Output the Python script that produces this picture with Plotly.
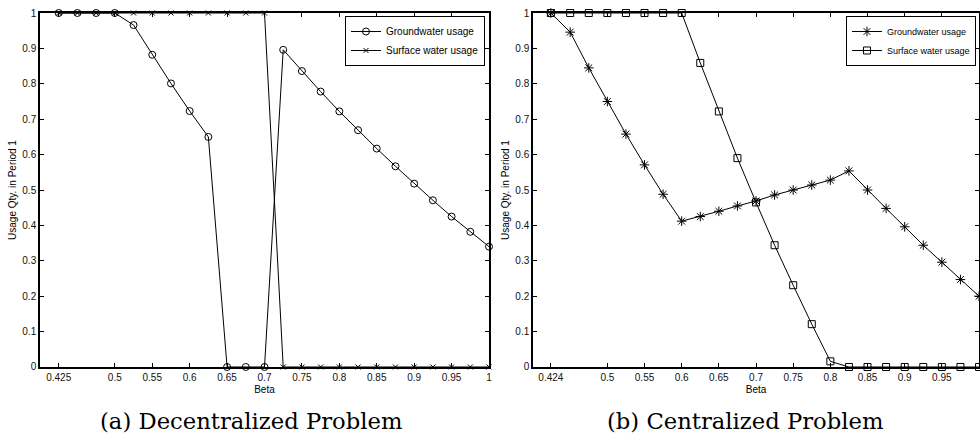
import plotly.graph_objects as go

# ---- Data: (a) Decentralized Problem ----
beta_a = [0.425, 0.45, 0.475, 0.5, 0.525, 0.55, 0.575, 0.6, 0.625, 0.65, 0.675, 0.7,
          0.725, 0.75, 0.775, 0.8, 0.825, 0.85, 0.875, 0.9, 0.925, 0.95, 0.975, 1.0]
ground_a = [1.0, 1.0, 1.0, 1.0, 0.966, 0.882, 0.801, 0.723, 0.650, 0.0, 0.0, 0.0,
            0.896, 0.836, 0.778, 0.722, 0.669, 0.617, 0.567, 0.518, 0.471, 0.425, 0.382, 0.340]
surface_a = [1.0, 1.0, 1.0, 1.0, 1.0, 1.0, 1.0, 1.0, 1.0, 1.0, 1.0, 1.0,
             0.0, 0.0, 0.0, 0.0, 0.0, 0.0, 0.0, 0.0, 0.0, 0.0, 0.0, 0.0]

# ---- Data: (b) Centralized Problem ----
beta_b = [0.424, 0.45, 0.475, 0.5, 0.525, 0.55, 0.575, 0.6, 0.625, 0.65, 0.675, 0.7,
          0.725, 0.75, 0.775, 0.8, 0.825, 0.85, 0.875, 0.9, 0.925, 0.95, 0.975, 1.0]
ground_b = [1.0, 0.946, 0.845, 0.750, 0.658, 0.571, 0.488, 0.412, 0.425, 0.440, 0.455, 0.469,
            0.486, 0.500, 0.514, 0.528, 0.554, 0.500, 0.448, 0.396, 0.344, 0.296, 0.247, 0.200]
surface_b = [1.0, 1.0, 1.0, 1.0, 1.0, 1.0, 1.0, 1.0, 0.859, 0.722, 0.590, 0.465,
             0.344, 0.231, 0.121, 0.016, 0.0, 0.0, 0.0, 0.0, 0.0, 0.0, 0.0, 0.0]

# ---- Tick labels ----
xticks_a = [0.425, 0.5, 0.55, 0.6, 0.65, 0.7, 0.75, 0.8, 0.85, 0.9, 0.95, 1.0]
xticktext_a = ["0.425", "0.5", "0.55", "0.6", "0.65", "0.7", "0.75", "0.8", "0.85", "0.9", "0.95", "1"]
xticks_b = [0.424, 0.5, 0.55, 0.6, 0.65, 0.7, 0.75, 0.8, 0.85, 0.9, 0.95, 1.0]
xticktext_b = ["0.424", "0.5", "0.55", "0.6", "0.65", "0.7", "0.75", "0.8", "0.85", "0.9", "0.95", "1"]
yticks = [0, 0.1, 0.2, 0.3, 0.4, 0.5, 0.6, 0.7, 0.8, 0.9, 1.0]
yticktext = ["0", "0.1", "0.2", "0.3", "0.4", "0.5", "0.6", "0.7", "0.8", "0.9", "1"]

series_names = ["Groundwater usage", "Surface water usage"]
captions = ["(a) Decentralized Problem", "(b) Centralized Problem"]

SANS = "Liberation Sans, Arial, sans-serif"
BLACK = "#000000"

fig = go.Figure()

def add(x, y, name, symbol, size, xa, ya, legend):
    fig.add_trace(go.Scatter(
        x=x, y=y, name=name, mode="lines+markers",
        line=dict(color=BLACK, width=1),
        marker=dict(symbol=symbol, size=size, color=BLACK, line=dict(color=BLACK, width=1)),
        xaxis=xa, yaxis=ya, legend=legend, cliponaxis=False,
    ))

add(beta_a, ground_a, series_names[0], "circle-open", 7, "x", "y", "legend")
add(beta_a, surface_a, series_names[1], "x-thin-open", 5, "x", "y", "legend")
add(beta_b, ground_b, series_names[0], "asterisk-open", 8, "x2", "y2", "legend2")
add(beta_b, surface_b, series_names[1], "square-open", 7, "x2", "y2", "legend2")

axis_common = dict(
    showline=True, linecolor=BLACK, linewidth=1.5, mirror="ticks",
    ticks="inside", ticklen=4, tickwidth=1, tickcolor=BLACK,
    showgrid=False, zeroline=False, automargin=False,
    tickfont=dict(family=SANS, size=10, color="#111111"),
)
title_font = dict(family=SANS, size=10, color=BLACK)

fig.update_layout(
    width=980, height=438, autosize=False,
    margin=dict(l=0, r=0, t=0, b=0, pad=0),
    paper_bgcolor="white", plot_bgcolor="white",
    showlegend=True,
    xaxis=dict(domain=[0.0408, 0.4990], range=[0.4, 1.0], tickvals=xticks_a, ticktext=xticktext_a,
               title=dict(text="Beta", font=title_font, standoff=4),
               anchor="y", **axis_common),
    yaxis=dict(domain=[0.1621, 0.9703], range=[0, 1], tickvals=yticks, ticktext=yticktext,
               title=dict(text="Usage Qty. in Period 1", font=title_font, standoff=4),
               anchor="x", **axis_common),
    xaxis2=dict(domain=[0.5439, 0.9990], range=[0.4, 1.0], tickvals=xticks_b, ticktext=xticktext_b,
                title=dict(text="Beta", font=title_font, standoff=4),
                anchor="y2", **axis_common),
    yaxis2=dict(domain=[0.1621, 0.9703], range=[0, 1], tickvals=yticks, ticktext=yticktext,
                title=dict(text="Usage Qty. in Period 1", font=title_font, standoff=4),
                anchor="x2", **axis_common),
    legend=dict(x=0.4949, y=0.9635, xanchor="right", yanchor="top",
                bgcolor="white", bordercolor=BLACK, borderwidth=1,
                font=dict(family=SANS, size=10, color=BLACK), itemwidth=30, tracegroupgap=0),
    legend2=dict(x=0.9959, y=0.9635, xanchor="right", yanchor="top",
                 bgcolor="white", bordercolor=BLACK, borderwidth=1,
                 font=dict(family=SANS, size=9, color=BLACK), itemwidth=30, tracegroupgap=0),
    annotations=[
        dict(text=captions[0], x=0.2566, y=0.0388, xref="paper", yref="paper",
             xanchor="center", yanchor="middle", showarrow=False,
             font=dict(family="DejaVu Serif", size=22.7, color=BLACK)),
        dict(text=captions[1], x=0.7602, y=0.0388, xref="paper", yref="paper",
             xanchor="center", yanchor="middle", showarrow=False,
             font=dict(family="DejaVu Serif", size=22.7, color=BLACK)),
    ],
)

fig.write_html(
    "out.html",
    config={"displayModeBar": False},
    post_script="document.body.style.margin='0';document.body.style.overflow='hidden';",
)
